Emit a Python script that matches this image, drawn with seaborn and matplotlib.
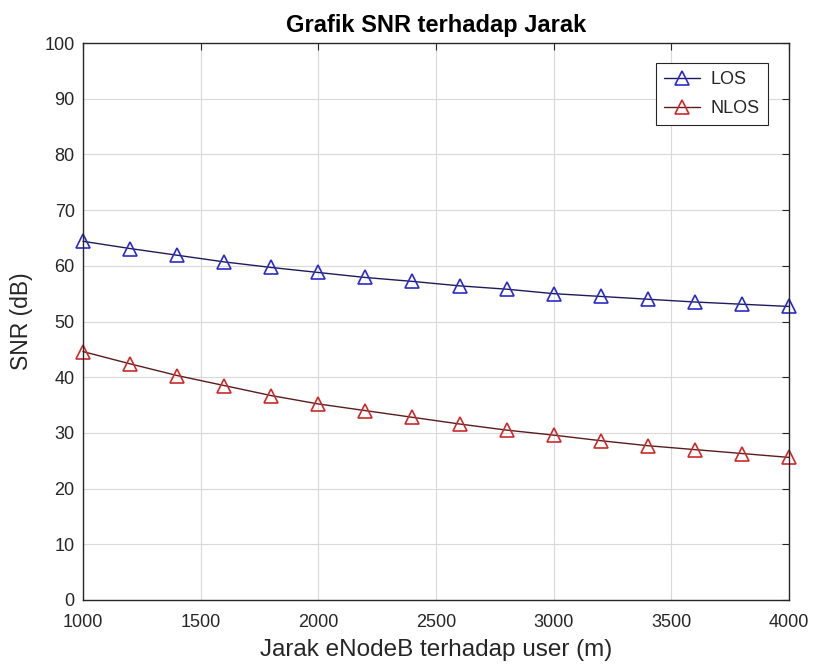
import matplotlib
matplotlib.use("Agg")
import matplotlib.pyplot as plt
import seaborn as sns
import pandas as pd

# Data
jarak = [1000, 1200, 1400, 1600, 1800, 2000, 2200, 2400, 2600, 2800,
         3000, 3200, 3400, 3600, 3800, 4000]
snr_los = [64.4, 63.1, 61.9, 60.7, 59.7, 58.8, 57.9, 57.2, 56.4, 55.8,
           55.0, 54.5, 54.0, 53.5, 53.1, 52.7]
snr_nlos = [44.6, 42.4, 40.3, 38.5, 36.7, 35.2, 34.0, 32.8, 31.6, 30.5,
            29.6, 28.6, 27.7, 27.0, 26.3, 25.6]
series_names = ["LOS", "NLOS"]
x_ticks = [1000, 1500, 2000, 2500, 3000, 3500, 4000]
y_ticks = [0, 10, 20, 30, 40, 50, 60, 70, 80, 90, 100]

title = "Grafik SNR terhadap Jarak"
xlabel = "Jarak eNodeB terhadap user (m)"
ylabel = "SNR (dB)"

sns.set_style("whitegrid")
plt.rcParams["font.family"] = ["Liberation Sans", "DejaVu Sans"]

W, H = 814, 668
fig = plt.figure(figsize=(W / 100, H / 100), dpi=100)
ax = fig.add_axes([83 / W, 1 - 600 / H, (789 - 83) / W, (600 - 43) / H])

df_los = pd.DataFrame({"x": jarak, "y": snr_los})
df_nlos = pd.DataFrame({"x": jarak, "y": snr_nlos})

styles = [
    (df_los, series_names[0], "#1c1c5a", "#2b2bc8"),
    (df_nlos, series_names[1], "#5a1c1c", "#cc2a2a"),
]
for df, name, lc, mc in styles:
    sns.lineplot(data=df, x="x", y="y", ax=ax, color=lc, linewidth=1.0,
                 marker="^", markersize=10, markerfacecolor="none",
                 markeredgecolor=mc, markeredgewidth=1.2, label=name,
                 clip_on=False)

ax.set_xlim(1000, 4000)
ax.set_ylim(0, 100)
ax.set_xticks(x_ticks)
ax.set_yticks(y_ticks)
ax.grid(True, color="#d9d9d9", linewidth=0.8)
for s in ax.spines.values():
    s.set_visible(True)
    s.set_color("#262626")
    s.set_linewidth(1.0)
ax.tick_params(axis="both", direction="in", length=5, width=0.8,
               colors="#262626", labelsize=13, top=True, right=True,
               labelcolor="#262626")
ax.tick_params(axis="x", pad=10)
ax.tick_params(axis="y", pad=6)

ax.set_title(title, fontsize=17, fontweight="bold", color="black", pad=8)
ax.set_xlabel(xlabel, fontsize=17.5, color="#262626", labelpad=6)
ax.set_ylabel(ylabel, fontsize=16.5, color="#262626", labelpad=8)

x_right = (768 - 83) / (789 - 83)
y_top = (600 - 63) / (600 - 43)
leg = ax.legend(loc="upper right", bbox_to_anchor=(x_right, y_top),
                fontsize=13, frameon=True, fancybox=False, framealpha=1,
                edgecolor="#262626", handlelength=2.0, handletextpad=0.6,
                borderpad=0.45, labelspacing=0.65, borderaxespad=0)
leg.get_frame().set_linewidth(0.8)

fig.savefig("out.png", dpi=100)
